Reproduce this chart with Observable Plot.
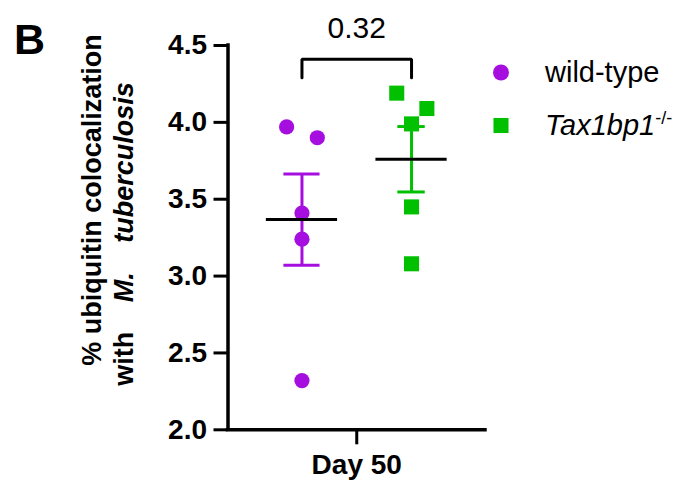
<!DOCTYPE html>
<html><head><meta charset="utf-8">
<script src="https://cdn.jsdelivr.net/npm/d3@7"></script>
<script src="https://cdn.jsdelivr.net/npm/@observablehq/plot@0.6"></script>
<style>
html,body{margin:0;padding:0;background:#fff;}
#chart{width:692px;height:481px;}
</style></head><body><div id="chart"></div>
<script>
// ---- data ----
const groups = ["wild-type", "Tax1bp1"];
const groupSuperscripts = ["", "-/-"];
const groupColors = ["#a60ee0", "#00c000"];
const groupSymbols = ["circle", "square"];
const groupX = [-1, 1];
const wildTypeValues = [3.97, 3.90, 3.41, 3.24, 2.32];
const wildTypeJitter = [-0.28, 0.28, 0, 0, 0];
const tax1bp1Values = [4.19, 4.09, 3.99, 3.45, 3.08];
const tax1bp1Jitter = [-0.27, 0.28, 0, 0, 0];
const yTicks = [2.0, 2.5, 3.0, 3.5, 4.0, 4.5];
const xTicks = [0];
const xTickLabels = ["Day 50"];
const pValueLabel = "0.32";
const bracketY = [4.29, 4.41];
const pLabelY = 4.55;

// ---- style constants ----
const FONT = "'Liberation Sans', Arial, Helvetica, sans-serif";
const capHalf = [0.33, 0.25];
const meanHalf = 0.65;
const xDomain = [-2.35, 2.35];

const seriesValues = [wildTypeValues, tax1bp1Values];
const seriesJitter = [wildTypeJitter, tax1bp1Jitter];

const summary = groups.map((g, i) => {
  const v = seriesValues[i];
  const m = d3.mean(v);
  const sem = d3.deviation(v) / Math.sqrt(v.length);
  return {group: g, x: groupX[i], mean: m, lo: m - sem, hi: m + sem, color: groupColors[i]};
});

const marks = [];
// axis lines
marks.push(Plot.ruleX([xDomain[0]], {stroke: "black", strokeWidth: 3.5, strokeLinecap: "square"}));
marks.push(Plot.ruleY([2.0], {stroke: "black", strokeWidth: 3.5, strokeLinecap: "square"}));

// points
groups.forEach((g, i) => {
  const pts = seriesValues[i].map((v, j) => ({x: groupX[i] + seriesJitter[i][j], y: v}));
  marks.push(Plot.dot(pts, {
    x: "x", y: "y", symbol: groupSymbols[i],
    r: groupSymbols[i] === "square" ? 8.5 : 7.6,
    fill: groupColors[i], stroke: "none"
  }));
});

// error bars
summary.forEach((s, i) => {
  marks.push(Plot.ruleX([s], {x: "x", y1: "lo", y2: "hi", stroke: s.color, strokeWidth: 3}));
  marks.push(Plot.ruleY([s.lo, s.hi], {y: d => d, x1: s.x - capHalf[i], x2: s.x + capHalf[i], stroke: s.color, strokeWidth: 3}));
  marks.push(Plot.ruleY([s], {y: "mean", x1: s.x - meanHalf, x2: s.x + meanHalf, stroke: "black", strokeWidth: 3.2}));
});

// significance bracket
const bracket = [[groupX[0], bracketY[0]], [groupX[0], bracketY[1]], [groupX[1], bracketY[1]], [groupX[1], bracketY[0]]];
marks.push(Plot.line(bracket, {x: d => d[0], y: d => d[1], stroke: "black", strokeWidth: 3, strokeLinejoin: "miter"}));
marks.push(Plot.text([pValueLabel], {x: (groupX[0] + groupX[1]) / 2, y: pLabelY, text: d => d, fontSize: 30, fontWeight: "normal", lineAnchor: "bottom", fill: "black"}));

// axes
marks.push(Plot.axisY(yTicks, {
  tickSize: 14, tickPadding: 7, tickFormat: d3.format(".1f"),
  fontSize: 28, fontWeight: "bold", strokeWidth: 3, label: null, fill: "black", stroke: "black"
}));
marks.push(Plot.axisX(xTicks, {
  tickSize: 15, tickPadding: 9, tickFormat: (d, i) => xTickLabels[i],
  fontSize: 28, fontWeight: "bold", strokeWidth: 3, label: null, fill: "black", stroke: "black"
}));

const plot = Plot.plot({
  width: 692, height: 481,
  marginLeft: 227.5, marginRight: 207, marginTop: 45, marginBottom: 51.7,
  x: {domain: xDomain, axis: null},
  y: {domain: [2.0, 4.5], axis: null},
  style: {fontFamily: FONT, color: "black", background: "white", overflow: "visible"},
  marks
});
document.getElementById("chart").appendChild(plot);

// ---- annotations: panel letter, y label, legend ----
const svg = d3.select(plot);
const ann = svg.append("g").attr("font-family", FONT).attr("fill", "black");

ann.append("text").attr("x", 14).attr("y", 54).attr("text-anchor", "start")
  .attr("font-size", 43).attr("font-weight", "bold").text("B");

ann.append("text")
  .attr("transform", "translate(101,200) rotate(-90)")
  .attr("text-anchor", "middle").attr("font-size", 27).attr("font-weight", "bold")
  .text("% ubiquitin colocalization");

const l2 = ann.append("text")
  .attr("transform", "translate(133,234) rotate(-90)")
  .attr("text-anchor", "middle").attr("font-size", 27).attr("font-weight", "bold")
  .attr("word-spacing", "22px");
l2.append("tspan").text("with ");
l2.append("tspan").attr("font-style", "italic").text("M. tuberculosis");

// legend
const legendY = [72.5, 125.5];
groups.forEach((g, i) => {
  const r = groupSymbols[i] === "square" ? 8.5 : 8;
  const sym = groupSymbols[i] === "square" ? d3.symbolSquare : d3.symbolCircle;
  ann.append("path")
    .attr("transform", `translate(501,${legendY[i]})`)
    .attr("d", d3.symbol(sym, Math.PI * r * r)())
    .attr("fill", groupColors[i]);
  const t = ann.append("text").attr("x", 545).attr("y", legendY[i] + 9.5)
    .attr("text-anchor", "start").attr("font-size", 29);
  if (i === 0) {
    t.text(g);
  } else {
    t.append("tspan").attr("font-style", "italic").text(g);
    t.append("tspan").attr("font-size", 18).attr("dy", -11).text(groupSuperscripts[i]);
  }
});
</script>
</body></html>
